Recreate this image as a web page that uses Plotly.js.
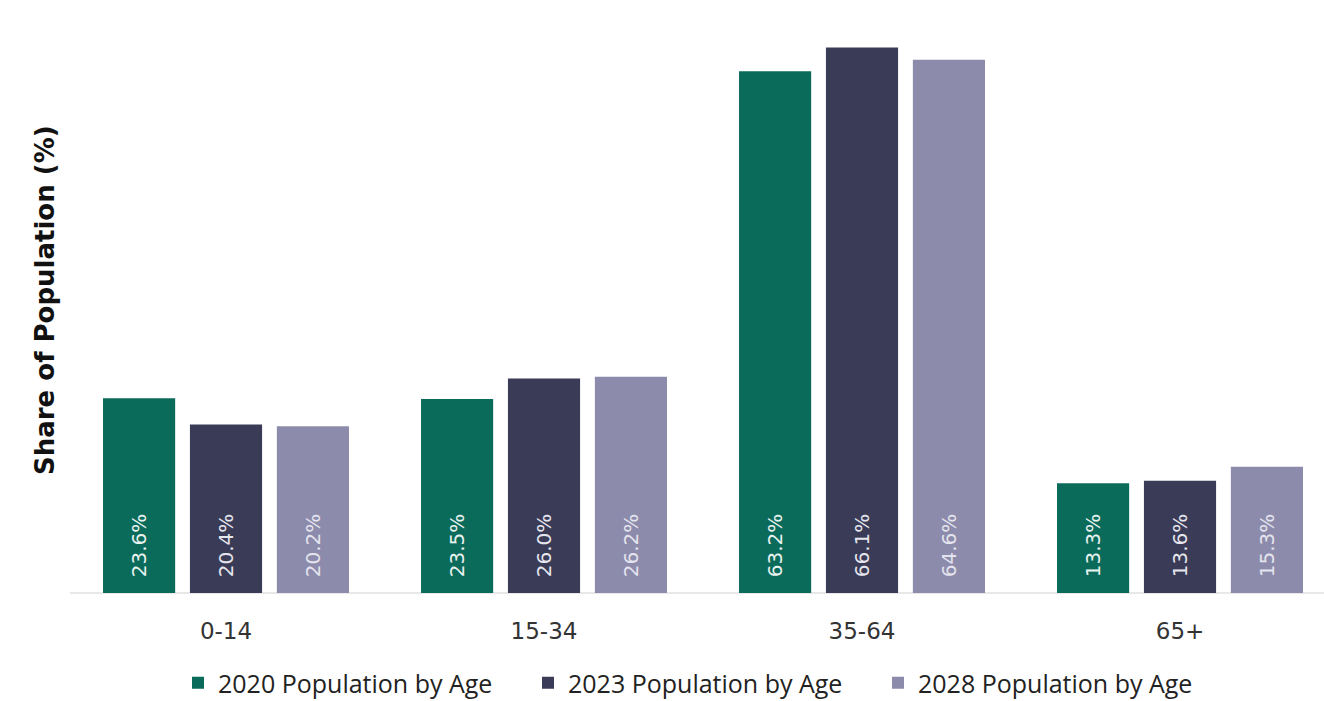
<!DOCTYPE html>
<html>
<head>
<meta charset="utf-8">
<script src="https://cdn.plot.ly/plotly-3.0.1.min.js"></script>
<style>html,body{margin:0;padding:0;background:#fff;}#chart{width:1324px;height:701px;}</style>
</head>
<body>
<div id="chart"></div>
<script>
const categories = ["0-14", "15-34", "35-64", "65+"];
const seriesNames = ["2020 Population by Age", "2023 Population by Age", "2028 Population by Age"];
const pop2020 = [23.6, 23.5, 63.2, 13.3];
const pop2023 = [20.4, 26.0, 66.1, 13.6];
const pop2028 = [20.2, 26.2, 64.6, 15.3];
const yTitle = "Share of Population (%)";
const colors = ["#0b6b5b", "#3a3b57", "#8d8bab"];
const textColors = ["#e8f2ef", "#e6e6ee", "#e4e4ee"];

const values = [pop2020, pop2023, pop2028];
const traces = values.map((v, i) => ({
  type: "bar",
  name: seriesNames[i],
  x: categories,
  y: v,
  marker: {color: colors[i]},
  texttemplate: "\u00a0\u00a0%{y:.1f}%",
  textposition: "inside",
  insidetextanchor: "start",
  textangle: -90,
  textfont: {family: "DejaVu Sans, sans-serif", size: 20, color: textColors[i]},
  hoverinfo: "none"
}));

const layout = {
  width: 1324, height: 701,
  margin: {l: 70, r: 0, t: 40, b: 108, autoexpand: false},
  paper_bgcolor: "#ffffff",
  plot_bgcolor: "#ffffff",
  barmode: "group",
  bargap: 0.18,
  bargroupgap: 0.17,
  showlegend: true,
  legend: {
    orientation: "h", xref: "paper", yref: "container",
    x: 0.5 + 6 / 1254, xanchor: "center", y: (701 - 683) / 701, yanchor: "middle",
    font: {family: "Open Sans, sans-serif", size: 25, color: "#222"},
    itemwidth: 30, traceorder: "normal", entrywidth: 305
  },
  xaxis: {
    type: "category",
    range: [-0.4906, 3.4528],
    showgrid: false, zeroline: false, showline: false,
    ticks: "",
    ticklabelstandoff: 22,
    tickfont: {family: "DejaVu Sans, sans-serif", size: 23, color: "#333"},
    fixedrange: true
  },
  yaxis: {
    range: [0, 67],
    showgrid: false,
    zeroline: true, zerolinecolor: "#e8e8e8", zerolinewidth: 2,
    showticklabels: false, ticks: "",
    fixedrange: true
  },
  annotations: [{
    text: yTitle, textangle: -90,
    xref: "paper", yref: "paper",
    x: -25 / 1254, y: (593 - 300) / 553,
    xanchor: "center", yanchor: "middle", showarrow: false,
    font: {family: "DejaVu Sans, sans-serif", size: 26, color: "#111", weight: "bold"}
  }]
};

Plotly.newPlot("chart", traces, layout, {displayModeBar: false, staticPlot: true});
</script>
</body>
</html>
